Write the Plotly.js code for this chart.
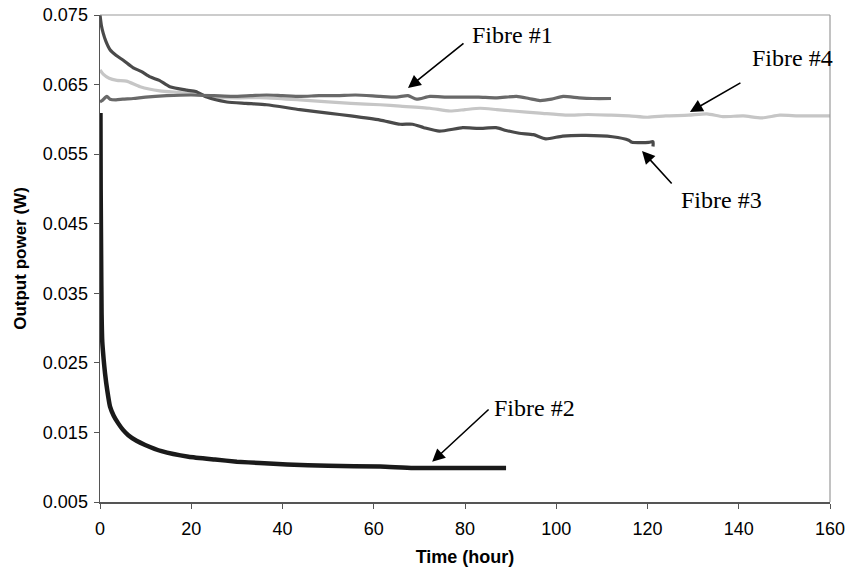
<!DOCTYPE html>
<html>
<head>
<meta charset="utf-8">
<script src="https://cdn.plot.ly/plotly-3.0.1.min.js"></script>
<style>html,body{margin:0;padding:0;background:#fff}#chart{width:848px;height:575px}</style>
</head>
<body>
<div id="chart"></div>
<script>
// Fibre #1
const f1Time = [0,0.5,1.5,2.2,3.5,5,7.3,10,14.6,20,25,29,33,36.5,40,44,48,52,56,61.4,65,67.5,69.4,72.3,76,80,83,87,91.3,94,96.4,99,101.5,105,108,112];
const f1Power = [0.0625,0.0627,0.0633,0.0629,0.0628,0.0629,0.0630,0.0632,0.0634,0.0635,0.0634,0.0633,0.0634,0.0635,0.0634,0.0633,0.0634,0.0634,0.0635,0.0633,0.0632,0.0634,0.0629,0.0633,0.0632,0.0632,0.0632,0.0631,0.0633,0.0630,0.0627,0.0629,0.0633,0.0631,0.0630,0.0630];
// Fibre #2
const f2Time = [0.1,0.15,0.25,0.35,0.5,0.8,1.1,1.6,2.2,3,4,5,6.2,8,9.9,13.5,19.4,25.2,30,35,41,50,61.4,68.7,80,89];
const f2Power = [0.0609,0.0500,0.0400,0.0320,0.0280,0.0255,0.0235,0.0210,0.0187,0.0174,0.0163,0.0154,0.0146,0.0138,0.0132,0.0123,0.0115,0.0111,0.0108,0.0106,0.0104,0.0102,0.0101,0.0099,0.0099,0.0099];
// Fibre #3
const f3Time = [0,0.3,0.7,1.3,2.2,3.5,5.1,7.3,9,11,13,15.3,19,21,23.4,27.8,32,36.5,43.8,50,55,61.4,65.8,68.5,71,74.4,79.5,83,86.8,89,91.9,95,97.7,101.4,106.5,112.3,115.9,116.6,120.3,121.2,121.2];
const f3Power = [0.0750,0.0735,0.0724,0.0712,0.0700,0.0692,0.0685,0.0674,0.0669,0.0661,0.0656,0.0647,0.0642,0.0640,0.0632,0.0625,0.0623,0.0621,0.0614,0.0609,0.0605,0.0599,0.0593,0.0593,0.0588,0.0583,0.0588,0.0587,0.0588,0.0584,0.0580,0.0578,0.0572,0.0576,0.0577,0.0575,0.0570,0.0567,0.0567,0.0568,0.0561];
// Fibre #4
const f4Time = [0,0.7,2,3.7,5.8,8.8,13.1,18.3,25.6,30,36.5,43.8,50,55,61.4,65.8,72.3,76.7,80,83.3,87,90.5,96.4,102,107,112,116,120,124,129,133,136.5,141,145,149,153,156,160];
const f4Power = [0.0671,0.0665,0.0659,0.0656,0.0655,0.0647,0.0641,0.0638,0.0632,0.0631,0.0631,0.0628,0.0625,0.0623,0.0621,0.0619,0.0616,0.0612,0.0614,0.0616,0.0614,0.0612,0.0609,0.0606,0.0607,0.0606,0.0605,0.0603,0.0605,0.0606,0.0608,0.0604,0.0605,0.0602,0.0606,0.0605,0.0605,0.0605];

const seriesNames = ['Fibre #1','Fibre #2','Fibre #3','Fibre #4'];
const xTicks = [0,20,40,60,80,100,120,140,160];
const yTicks = [0.005,0.015,0.025,0.035,0.045,0.055,0.065,0.075];
const yTickLabels = ['0.005','0.015','0.025','0.035','0.045','0.055','0.065','0.075'];

// label placements: [head x, head y, tail x, tail y, text x, text y]
const labelPos = {
  'Fibre #1': [67.5,0.0645,80.0,0.0711,81.0,0.0721],
  'Fibre #2': [72.8,0.01078,85.5,0.0185,86.0,0.0185],
  'Fibre #3': [118.8,0.05546,125.6,0.05057,127.0,0.0484],
  'Fibre #4': [129.3,0.06106,140.7,0.06537,142.4,0.0688]
};

const traces = [
  {x:f4Time,y:f4Power,name:seriesNames[3],mode:'lines',line:{color:'#c6c6c6',width:3.2,shape:'spline',smoothing:0.6}},
  {x:f3Time,y:f3Power,name:seriesNames[2],mode:'lines',line:{color:'#4a4a4a',width:3.2,shape:'spline',smoothing:0.6}},
  {x:f1Time,y:f1Power,name:seriesNames[0],mode:'lines',line:{color:'#696969',width:3.2,shape:'spline',smoothing:0.6}},
  {x:f2Time,y:f2Power,name:seriesNames[1],mode:'lines',line:{color:'#1a1a1a',width:4.5,shape:'spline',smoothing:0.5}}
];

const annotations = [];
seriesNames.forEach(n => {
  const p = labelPos[n];
  annotations.push({x:p[0],y:p[1],ax:p[2],ay:p[3],axref:'x',ayref:'y',xref:'x',yref:'y',text:'',showarrow:true,arrowhead:2,arrowsize:1.6,arrowwidth:1.6,arrowcolor:'#000',standoff:0});
  annotations.push({x:p[4],y:p[5],xref:'x',yref:'y',text:n,showarrow:false,xanchor:'left',yanchor:'middle',font:{family:'Liberation Serif, Times New Roman, serif',size:24,color:'#000'}});
});

const layout = {
  width:848,height:575,
  margin:{l:100,r:18,t:15,b:73,pad:0},
  paper_bgcolor:'#fff',plot_bgcolor:'#fff',
  showlegend:false,
  font:{family:'Liberation Sans, Arial, sans-serif',color:'#000'},
  xaxis:{range:[0,160],tickvals:xTicks,ticks:'outside',ticklen:5,tickcolor:'#555',showline:true,linecolor:'#555',linewidth:1.5,showgrid:false,zeroline:false,
    tickfont:{size:18,color:'#000'},ticklabelstandoff:5,
    title:{text:'Time (hour)',font:{size:18,color:'#000',weight:'bold'},standoff:12}},
  yaxis:{range:[0.005,0.075],tickvals:yTicks,ticktext:yTickLabels,ticks:'outside',ticklen:5,tickcolor:'#555',showline:true,linecolor:'#555',linewidth:1.5,showgrid:false,zeroline:false,
    tickfont:{size:18,color:'#000'},ticklabelstandoff:2,
    title:{text:'Output power (W)',font:{size:17,color:'#000',weight:'bold'},standoff:12}},
  shapes:[
    {type:'line',xref:'paper',yref:'paper',x0:0,x1:1,y0:1,y1:1,line:{color:'#999',width:1.2}},
    {type:'line',xref:'paper',yref:'paper',x0:1,x1:1,y0:0,y1:1,line:{color:'#999',width:1.2}}
  ],
  annotations:annotations
};

Plotly.newPlot('chart',traces,layout,{displayModeBar:false,staticPlot:true});
</script>
</body>
</html>
